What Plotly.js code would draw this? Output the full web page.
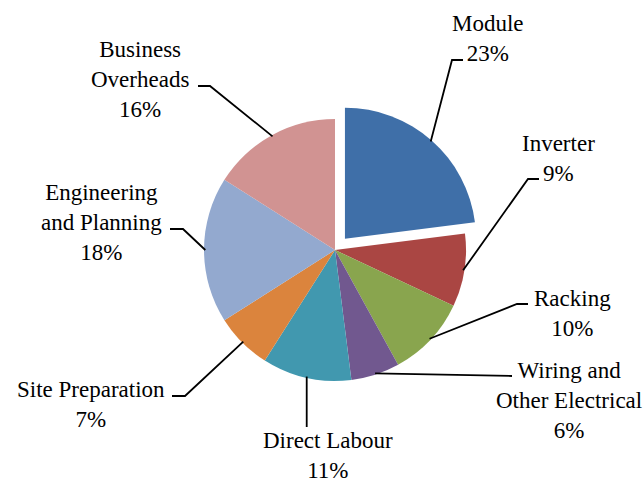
<!DOCTYPE html>
<html><head>
<script src="https://cdn.plot.ly/plotly-3.0.1.min.js"></script>
<style>html,body{margin:0;padding:0;background:#fff}</style>
</head><body>
<div id="chart" style="width:644px;height:483px"></div>
<script>
// ---- data ----
const categories = ['Module','Inverter','Racking','Wiring and Other Electrical','Direct Labour','Site Preparation','Engineering and Planning','Business Overheads'];
const labelTexts = ['Module','Inverter','Racking','Wiring and<br>Other Electrical','Direct Labour','Site Preparation','Engineering<br>and Planning','Business<br>Overheads'];
const shares = [23, 9, 10, 6, 11, 7, 18, 16];
const pulls = [0.115, 0, 0, 0, 0, 0, 0, 0];
const colors = ['#3F6FA8','#AA4643','#89A54E','#71588F','#4198AF','#DB843D','#93A9CF','#D19392'];

// ---- layout geometry (pixels) ----
const W = 644, H = 483;
const CX = 335, CY = 250, R = 131;
const maxPull = Math.max(...pulls);
const half = R * (1 + maxPull);
const domX = [(CX - half) / W, (CX + half) / W];
const domY = [1 - (CY + half) / H, 1 - (CY - half) / H];

// label block centres and leader-line bends (pixels)
const labelPos = [[488,38],[558,158],[572,313],[569,400],[328,455],[91,404],[101,222],[140,79]];
const bends = [
  [[452,60],[463,60]],
  [[528,179],[539,179]],
  [[517,304],[528,304]],
  [[512,376]],
  [null,[0,427]],
  [[185,396],[172,396]],
  [[183,229],[170,229]],
  [[210,86],[198,86]]
];

const px = x => x / W, py = y => 1 - y / H;
const total = shares.reduce((a, b) => a + b, 0);
let cum = 0;
const shapes = [];
shares.forEach((v, i) => {
  const mid = (cum + v / 2) / total * 2 * Math.PI;
  cum += v;
  const off = pulls[i] * R;
  const ox = CX + off * Math.sin(mid), oy = CY - off * Math.cos(mid);
  const ex = ox + R * 0.99 * Math.sin(mid), ey = oy - R * 0.99 * Math.cos(mid);
  let pts = [[ex, ey]];
  bends[i].forEach(p => {
    if (p === null) return;
    if (i === 4) pts.push([ex, p[1]]); else pts.push(p);
  });
  const path = pts.map((p, k) => (k ? 'L' : 'M') + px(p[0]).toFixed(5) + ',' + py(p[1]).toFixed(5)).join(' ');
  shapes.push({type: 'path', xref: 'paper', yref: 'paper', path: path, line: {color: '#000', width: 1.8}});
});

const annotations = labelTexts.map((t, i) => ({
  text: t + '<br>' + shares[i] + '%',
  xref: 'paper', yref: 'paper',
  x: px(labelPos[i][0]), y: py(labelPos[i][1]),
  xanchor: 'center', yanchor: 'middle', align: 'center',
  showarrow: false,
  font: {family: 'Liberation Serif, serif', size: 23, color: '#000'}
}));

Plotly.newPlot('chart', [{
  type: 'pie',
  labels: categories,
  values: shares,
  pull: pulls,
  sort: false,
  direction: 'clockwise',
  rotation: 0,
  textinfo: 'none',
  hoverinfo: 'label+percent',
  marker: {colors: colors, line: {width: 0}},
  domain: {x: domX, y: domY}
}], {
  width: W, height: H,
  margin: {l: 0, r: 0, t: 0, b: 0},
  showlegend: false,
  paper_bgcolor: '#fff',
  shapes: shapes,
  annotations: annotations
}, {displayModeBar: false, staticPlot: true});
</script>
</body></html>
